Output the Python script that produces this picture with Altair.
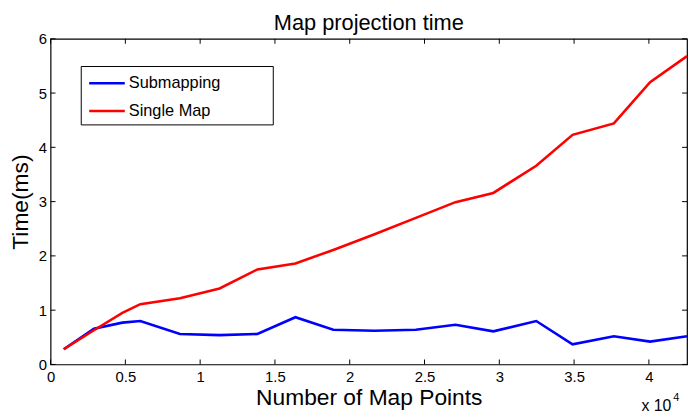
import altair as alt
import pandas as pd

# ---- data (x in units of 10^4 map points, y in ms) ----
X_POINTS = [0.088, 0.29, 0.48, 0.60, 0.865, 1.13, 1.383, 1.637, 1.89, 2.166,
            2.442, 2.707, 2.96, 3.247, 3.49, 3.766, 4.008, 4.255]
SUBMAPPING = [0.28, 0.66, 0.77, 0.80, 0.56, 0.54, 0.56, 0.87, 0.64, 0.62,
              0.64, 0.73, 0.61, 0.80, 0.37, 0.52, 0.42, 0.52]
SINGLE_MAP = [0.28, 0.63, 0.95, 1.11, 1.22, 1.40, 1.75, 1.86, 2.11, 2.40,
              2.70, 2.99, 3.16, 3.66, 4.23, 4.44, 5.20, 5.68]
SERIES = ["Submapping", "Single Map"]
COLORS = ["#0000ff", "#ff0000"]
X_TICKS = [0, 0.5, 1, 1.5, 2, 2.5, 3, 3.5, 4]
Y_TICKS = [0, 1, 2, 3, 4, 5, 6]
TITLE = "Map projection time"

W, H = 643, 329
FONT = "Liberation Sans"

xscale = alt.Scale(domain=[0, 4.255], nice=False, zero=False)
yscale = alt.Scale(domain=[0, 6], nice=False)

xaxis = alt.Axis(values=X_TICKS, format="~g", title="Number of Map Points",
                 grid=False, ticks=False, domain=False, labelFontSize=15,
                 labelPadding=5, labelColor="black", labelFont=FONT,
                 titleFont=FONT, titleFontSize=23, titleFontWeight="normal",
                 titleColor="black", titleBaseline="alphabetic", titleY=40,
                 labelFlush=False, labelOverlap=False)
yaxis = alt.Axis(values=Y_TICKS, title="Time(ms)", grid=False, ticks=False,
                 domain=False, labelFontSize=15, labelPadding=4,
                 labelColor="black", labelFont=FONT, titleFont=FONT,
                 titleFontSize=23, titleFontWeight="normal", titleColor="black",
                 titleBaseline="alphabetic", titleX=-23, titleY=H / 2,
                 titleAngle=270, titleAlign="center", labelFlush=False,
                 labelOverlap=False)


def X(field):
    return alt.X(field, scale=xscale, axis=xaxis)


def Y(field):
    return alt.Y(field, scale=yscale, axis=yaxis)


sub_df = pd.DataFrame({"x": X_POINTS, "y": SUBMAPPING})
single_df = pd.DataFrame({"x": X_POINTS, "y": SINGLE_MAP})

sub_line = alt.Chart(sub_df).mark_line(color=COLORS[0], strokeWidth=2.6).encode(
    x=X("x:Q"), y=Y("y:Q"))
single_line = alt.Chart(single_df).mark_line(color=COLORS[1], strokeWidth=2.6).encode(
    x=X("x:Q"), y=Y("y:Q"))

xt_df = pd.DataFrame({"t": X_TICKS})
yt_df = pd.DataFrame({"t": Y_TICKS})
TL = 5
tick_bottom = alt.Chart(xt_df).mark_rule(color="black", strokeWidth=1).encode(
    x=X("t:Q"), y=alt.value(H), y2=alt.value(H - TL))
tick_top = alt.Chart(xt_df).mark_rule(color="black", strokeWidth=1).encode(
    x=X("t:Q"), y=alt.value(0), y2=alt.value(TL))
tick_left = alt.Chart(yt_df).mark_rule(color="black", strokeWidth=1).encode(
    y=Y("t:Q"), x=alt.value(0), x2=alt.value(TL))
tick_right = alt.Chart(yt_df).mark_rule(color="black", strokeWidth=1).encode(
    y=Y("t:Q"), x=alt.value(W), x2=alt.value(W - TL))

# ---- legend (MATLAB-style box) ----
one = pd.DataFrame({"a": [0]})
legend_box = alt.Chart(one).mark_rect(fill="white", stroke="black", strokeWidth=1).encode(
    x=alt.value(31), x2=alt.value(225), y=alt.value(28), y2=alt.value(87))
legend_layers = [legend_box]
for i, (name, col) in enumerate(zip(SERIES, COLORS)):
    row_y = 45 + 28 * i
    ldf = pd.DataFrame({"name": [name]})
    legend_layers.append(
        alt.Chart(ldf).mark_rule(color=col, strokeWidth=2.6).encode(
            x=alt.value(39), x2=alt.value(75), y=alt.value(row_y)))
    legend_layers.append(
        alt.Chart(ldf).mark_text(align="left", baseline="middle", fontSize=16.5,
                                 font=FONT, color="black").encode(
            text="name:N", x=alt.value(79), y=alt.value(row_y)))

# ---- title and "x 10^4" exponent label ----
title_mark = alt.Chart(pd.DataFrame({"s": [TITLE]})).mark_text(
    align="center", baseline="alphabetic", fontSize=22, font=FONT, color="black"
).encode(text="s:N", x=alt.value(W / 2), y=alt.value(-9))
exp_base = alt.Chart(pd.DataFrame({"s": ["x 10"]})).mark_text(
    align="left", baseline="alphabetic", fontSize=16, font=FONT, color="black"
).encode(text="s:N", x=alt.value(597), y=alt.value(376))
exp_pow = alt.Chart(pd.DataFrame({"s": ["4"]})).mark_text(
    align="left", baseline="alphabetic", fontSize=11, font=FONT, color="black"
).encode(text="s:N", x=alt.value(629), y=alt.value(366))

chart = alt.layer(
    sub_line, single_line, tick_bottom, tick_top, tick_left, tick_right,
    *legend_layers, title_mark, exp_base, exp_pow
).properties(
    width=W, height=H,
    autosize=alt.AutoSizeParams(type="none"),
    padding={"left": 43, "top": 29, "right": 2, "bottom": 51},
    background="white",
).configure_view(stroke="black", strokeWidth=1.2)

chart.save("out.html", embed_options={"renderer": "svg", "actions": False})
